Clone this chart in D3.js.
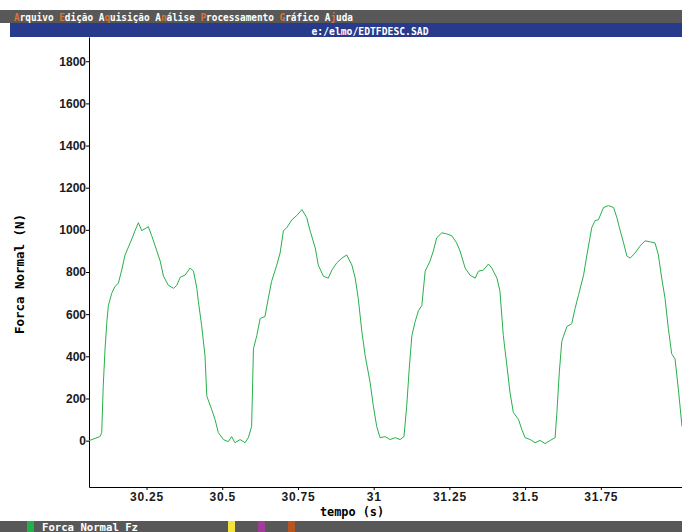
<!DOCTYPE html>
<html>
<head>
  <meta charset="utf-8">
  <title>EDTFDESC</title>
  <style>
    body { margin: 0; background: #fff; }
    svg { display: block; }
    .tick text { font-family: "Liberation Sans", Arial, sans-serif; font-weight: bold; font-size: 12px; fill: #1a1a1a; }
    .mono { font-family: "DejaVu Sans Mono", monospace; font-weight: bold; font-size: 12px; }
  </style>
  <script src="https://d3js.org/d3.v7.min.js"></script>
</head>
<body>
  <svg id="chart" width="682" height="532"></svg>
  <script>
    // menu and status bar content
    const menuItems = ["Arquivo", "Edição", "Aquisição", "Análise", "Processamento", "Gráfico", "Ajuda"]
    const menuHotkey = [0, 0, 1, 1, 0, 0, 1]
    const fileName = "e:/elmo/EDTFDESC.SAD"
    const seriesName = "Forca Normal Fz"

    // ticks
    const yTicks = [0, 200, 400, 600, 800, 1000, 1200, 1400, 1600, 1800]
    const xTicks = [30.25, 30.5, 30.75, 31, 31.25, 31.5, 31.75]
    const xTickLabels = ["30.25", "30.5", "30.75", "31", "31.25", "31.5", "31.75"]

    // force signal
    const tempo = [
      30.060, 30.096, 30.102, 30.107, 30.113, 30.119, 30.124, 30.135, 30.146, 30.157,
      30.168, 30.179, 30.196, 30.212, 30.223, 30.234, 30.256, 30.267, 30.284, 30.295,
      30.306, 30.322, 30.339, 30.350, 30.361, 30.377, 30.394, 30.405, 30.416, 30.421,
      30.432, 30.443, 30.449, 30.465, 30.476, 30.487, 30.504, 30.520, 30.531, 30.542,
      30.559, 30.575, 30.586, 30.597, 30.603, 30.614, 30.625, 30.641, 30.652, 30.663,
      30.680, 30.691, 30.702, 30.713, 30.730, 30.746, 30.763, 30.779, 30.790, 30.807,
      30.817, 30.834, 30.850, 30.862, 30.878, 30.895, 30.911, 30.928, 30.939, 30.949,
      30.961, 30.972, 30.988, 30.999, 31.010, 31.021, 31.038, 31.054, 31.071, 31.087,
      31.100, 31.109, 31.118, 31.126, 31.137, 31.148, 31.159, 31.170, 31.186, 31.197,
      31.208, 31.225, 31.241, 31.258, 31.274, 31.285, 31.302, 31.318, 31.335, 31.346,
      31.362, 31.379, 31.390, 31.407, 31.417, 31.428, 31.440, 31.450, 31.461, 31.478,
      31.489, 31.500, 31.517, 31.533, 31.549, 31.566, 31.583, 31.599, 31.605, 31.613,
      31.621, 31.626, 31.638, 31.654, 31.665, 31.676, 31.693, 31.704, 31.720, 31.731,
      31.742, 31.759, 31.775, 31.792, 31.803, 31.814, 31.825, 31.836, 31.847, 31.863,
      31.880, 31.896, 31.913, 31.929, 31.940, 31.951, 31.962, 31.973, 31.984, 31.995,
      32.006, 32.018
    ]
    const forca = [
      0, 19, 38, 258, 436, 565, 641, 699, 732, 747,
      809, 881, 938, 996, 1034, 996, 1015, 972, 900, 852,
      780, 737, 723, 737, 775, 785, 819, 804, 723, 661,
      546, 402, 211, 148, 101, 38, 5, -5, 19, -10,
      5, -10, 14, 67, 436, 498, 579, 589, 675, 756,
      833, 890, 996, 1010, 1048, 1068, 1096, 1058, 996, 914,
      833, 780, 771, 809, 843, 866, 881, 833, 771, 675,
      517, 402, 278, 163, 67, 14, 19, 5, 14, 5,
      19, 163, 354, 498, 565, 617, 641, 804, 852, 900,
      962, 986, 981, 972, 938, 900, 819, 785, 771, 804,
      809, 838, 819, 771, 708, 498, 354, 230, 134, 101,
      53, 14, 5, -10, 1, -14, 1, 14, 134, 326,
      469, 493, 541, 555, 627, 689, 785, 881, 1010, 1044,
      1048, 1106, 1115, 1106, 1058, 996, 938, 876, 866, 890,
      924, 948, 943, 938, 881, 771, 675, 531, 412, 388,
      244, 67
    ]

    const svg = d3.select("#chart"),
      width = +svg.attr("width"),
      height = +svg.attr("height")

    const plotLeft = 89, plotBottom = 487, plotTop = 37

    const x = d3.scaleLinear().domain([30.06, 32.018]).range([plotLeft, width])
    const y = d3.scaleLinear().domain([-220, 1915]).range([plotBottom, plotTop])

    // narrow, tall "bitmap" text: small mono font stretched vertically
    const charW = 5.65
    const monoSize = charW / 0.602

    // top menu bar
    svg.append("rect").attr("x", 0).attr("y", 10).attr("width", width).attr("height", 13).attr("fill", "#585858")
    const menuG = svg.append("g").attr("transform", "translate(14,20.5) scale(1,1.15)")
    let pos = 0
    menuItems.forEach((m, i) => {
      const k = menuHotkey[i]
      const t = menuG.append("text")
        .attr("class", "mono")
        .attr("x", pos * charW).attr("y", 0)
        .style("font-size", monoSize + "px")
        .attr("fill", "#fff")
      if (k > 0) t.append("tspan").text(m.slice(0, k))
      t.append("tspan").attr("fill", "#d9742e").text(m[k])
      t.append("tspan").text(m.slice(k + 1))
      pos += m.length + 1
    })

    // title bar
    svg.append("rect").attr("x", 10).attr("y", 23).attr("width", width - 10).attr("height", 14).attr("fill", "#283a8c")
    svg.append("g").attr("transform", "translate(370,35) scale(1,1.15)")
      .append("text")
      .attr("class", "mono")
      .attr("text-anchor", "middle")
      .style("font-size", (5.85 / 0.602) + "px")
      .attr("fill", "#fff")
      .text(fileName)

    // axes
    svg.append("g")
      .attr("transform", `translate(${plotLeft},0)`)
      .call(d3.axisLeft(y).tickValues(yTicks).tickSize(3).tickSizeOuter(0).tickFormat(d3.format("d")))
      .call(g => g.select(".domain").attr("stroke", "#000"))
      .call(g => g.selectAll(".tick text").attr("x", -3))

    svg.append("g")
      .attr("transform", `translate(0,${plotBottom})`)
      .call(d3.axisBottom(x).tickValues(xTicks).tickSize(3).tickSizeOuter(0)
        .tickFormat((d, i) => xTickLabels[i]))
      .call(g => g.select(".domain").attr("stroke", "#000"))
      .call(g => g.selectAll(".tick text").attr("y", 5).style("letter-spacing", "0.8px"))

    // axis titles
    svg.append("text")
      .attr("class", "mono")
      .attr("x", 352).attr("y", 516)
      .attr("text-anchor", "middle")
      .attr("textLength", 64)
      .attr("lengthAdjust", "spacingAndGlyphs")
      .text("tempo (s)")

    svg.append("text")
      .attr("class", "mono")
      .attr("transform", "translate(24,274) rotate(-90)")
      .attr("text-anchor", "middle")
      .attr("textLength", 120)
      .attr("lengthAdjust", "spacingAndGlyphs")
      .text("Forca Normal (N)")

    // the curve
    const pts = tempo.map((t, i) => [t, forca[i]])
    svg.append("path")
      .datum(pts)
      .attr("fill", "none")
      .attr("stroke", "#27b04b")
      .attr("stroke-width", 1)
      .attr("d", d3.line().x(d => x(d[0])).y(d => y(d[1])))

    // status bar
    svg.append("rect").attr("x", 0).attr("y", 521).attr("width", width).attr("height", 11).attr("fill", "#585858")
    const swatches = [[27, "#22b04a"], [228, "#f2e33a"], [258, "#a23c9a"], [288, "#b8541e"]]
    swatches.forEach(s => {
      svg.append("rect").attr("x", s[0]).attr("y", 521).attr("width", 7).attr("height", 11).attr("fill", s[1])
    })
    svg.append("text")
      .attr("class", "mono")
      .attr("x", 42).attr("y", 530.5)
      .attr("textLength", 96)
      .attr("lengthAdjust", "spacingAndGlyphs")
      .attr("fill", "#fff")
      .style("font-size", "11px")
      .text(seriesName)
  </script>
</body>
</html>
